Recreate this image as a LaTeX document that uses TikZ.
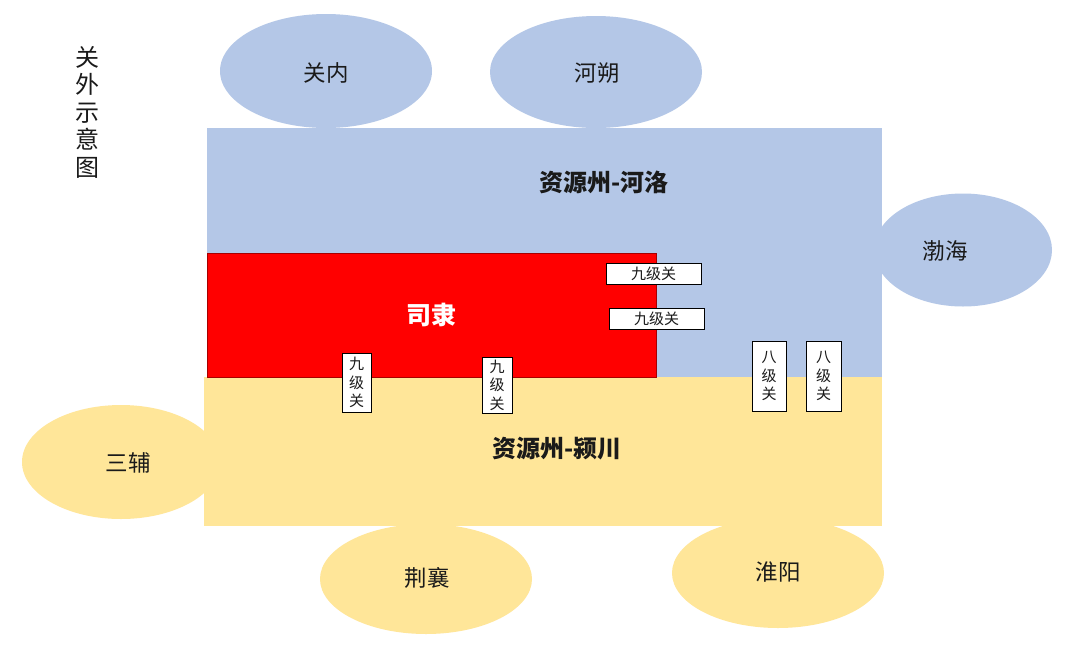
\documentclass[tikz,border=0pt]{standalone}
\usepackage{fontspec}
\setmainfont{Noto Sans CJK SC}
\usetikzlibrary{shapes.geometric}
\definecolor{lblue}{HTML}{B4C7E7}
\definecolor{lyellow}{HTML}{FFE699}
\definecolor{txt}{HTML}{1A1A1A}
\begin{document}
\begin{tikzpicture}[x=1pt,y=-1pt,
  oval/.style={ellipse,inner sep=0pt,draw=none},
  lbl/.style={font=\fontsize{22.5}{22.5}\selectfont,text=txt,inner sep=0pt},
  blbl/.style={font=\fontsize{24}{24}\selectfont\bfseries,text=txt,inner sep=0pt},
  gate/.style={draw=black,line width=0.9pt,fill=white,inner sep=0pt,font=\fontsize{15}{18.5}\selectfont,text=txt,align=center}]
\useasboundingbox (0,0) rectangle (1072,657);
\fill[white] (0,0) rectangle (1072,657);
% outer ellipses
\node[oval,fill=lblue,minimum width=212pt,minimum height=114pt] (guannei) at (326,71) {};
\node[oval,fill=lblue,minimum width=212pt,minimum height=112pt] (heshuo) at (596,72) {};
\node[oval,fill=lblue,minimum width=178pt,minimum height=113pt] (bohai) at (963,250) {};
\node[oval,fill=lyellow,minimum width=198pt,minimum height=114pt] (sanfu) at (121,462) {};
\node[oval,fill=lyellow,minimum width=212pt,minimum height=110pt] (jingxiang) at (426,579) {};
\node[oval,fill=lyellow,minimum width=212pt,minimum height=110pt] (huaiyang) at (778,573) {};
% regions
\path[fill=lblue] (207,128) rectangle (882,378);
\path[fill=lyellow] (204,377) rectangle (882,526);
\path[fill=red,draw=red!65!black,line width=0.8pt] (207,253) rectangle (656,377);
% labels
\node[lbl] (tguannei) at (326,73) {关内};
\node[lbl] (theshuo) at (597,73) {河朔};
\node[lbl] (tbohai) at (945,251) {渤海};
\node[lbl] (tsanfu) at (128,463) {三辅};
\node[lbl] (tjingxiang) at (427,578) {荆襄};
\node[lbl] (thuaiyang) at (778,572) {淮阳};
\node[blbl] (theluo) at (604,182) {资源州-河洛};
\node[blbl,text=white,font=\fontsize{25}{25}\selectfont\bfseries] (tsili) at (431,315) {司隶};
\node[blbl] (tyingchuan) at (557,449) {资源州-颍川};
% title
\node[font=\fontsize{24}{27.5}\selectfont,text=txt,align=center,inner sep=0pt] (title) at (87,112) {关\\外\\示\\意\\图};
% gates
\node[gate,minimum width=95pt,minimum height=21pt] (g1) at (653.5,273.5) {九级关};
\node[gate,minimum width=95pt,minimum height=21pt] (g2) at (656.5,318.5) {九级关};
\node[gate,minimum width=29pt,minimum height=59pt] (g3) at (356.5,382.5) {九\\级\\关};
\node[gate,minimum width=30pt,minimum height=56pt] (g4) at (497,385) {九\\级\\关};
\node[gate,minimum width=34pt,minimum height=70pt] (g5) at (769,376) {八\\级\\关};
\node[gate,minimum width=35pt,minimum height=70pt] (g6) at (823.5,376) {八\\级\\关};
\end{tikzpicture}
\end{document}
